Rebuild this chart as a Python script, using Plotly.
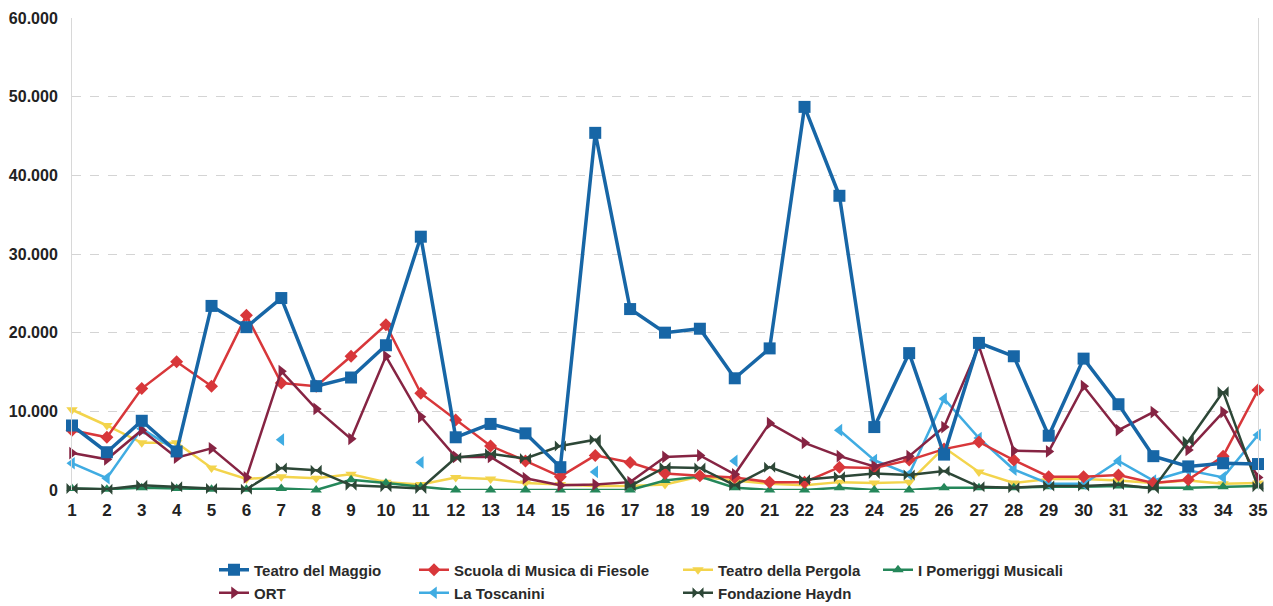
import plotly.graph_objects as go

categories = list(range(1, 36))

maggio = [8200, 4800, 8800, 4900, 23400, 20700, 24400, 13200, 14300, 18400, 32200, 6700, 8400, 7200, 2900,
          45400, 23000, 20000, 20500, 14200, 18000, 48700, 37400, 8000, 17400, 4500, 18700, 17000, 6900,
          16700, 10900, 4300, 3000, 3400, 3300]
fiesole = [7600, 6700, 12900, 16300, 13200, 22200, 13600, 13200, 17000, 21000, 12300, 8900, 5600, 3700, 1700,
           4400, 3500, 2100, 1800, 1600, 1000, 1000, 2900, 2800, 3800, 5200, 6100, 3800, 1700, 1700, 1900,
           900, 1300, 4300, 12700]
pergola = [10200, 8200, 6000, 6000, 2800, 1400, 1700, 1500, 2000, 1000, 700, 1600, 1400, 900, 700, 500, 500,
           700, 1700, 1200, 800, 600, 1000, 900, 1000, 5400, 2300, 900, 1400, 1400, 1200, 900, 1200, 800, 900]
pomeriggi = [200, 100, 300, 200, 100, 100, 200, 0, 1300, 900, 400, 0, 0, 0, 0, 0, 0, 1200, 1700, 300, 0, 0,
             300, 0, 0, 300, 300, 300, 400, 400, 500, 300, 300, 400, 500]
ort = [4700, 3900, 7600, 4100, 5300, 1600, 15100, 10300, 6500, 17000, 9300, 4200, 4200, 1500, 600, 700, 1000,
       4200, 4400, 2000, 8500, 6000, 4300, 3000, 4300, 8000, 18300, 5000, 4900, 13200, 7600, 9900, 5100, 9900,
       1600]
toscanini = [3400, 1500, 7800, 5000, None, None, 6400, None, None, None, 3500, None, None, None, None, 2300,
             None, None, None, 3700, None, None, 7600, 3800, 2000, 11600, 6600, 2600, 800, 800, 3700, 1200,
             2500, 1600, 7000]
haydn = [200, 100, 600, 400, 200, 100, 2800, 2500, 600, 400, 200, 4100, 4600, 4000, 5600, 6400, 500, 2900,
         2800, 600, 2900, 1300, 1700, 2100, 1900, 2400, 400, 300, 500, 500, 700, 200, 6200, 12500, 400]

y_ticks = [0, 10000, 20000, 30000, 40000, 50000, 60000]
y_tick_labels = ["0", "10.000", "20.000", "30.000", "40.000", "50.000", "60.000"]

series = [
    ("Teatro del Maggio", maggio, "#1766a6", "square", 12, 3.5, "legend"),
    ("Scuola di Musica di Fiesole", fiesole, "#d8373a", "diamond", 10, 2.5, "legend2"),
    ("Teatro della Pergola", pergola, "#f3d44c", "triangle-down", 10, 2.5, "legend3"),
    ("I Pomeriggi Musicali", pomeriggi, "#25875a", "triangle-up", 10, 2.5, "legend4"),
    ("ORT", ort, "#862443", "triangle-right", 11, 2.5, "legend5"),
    ("La Toscanini", toscanini, "#40ace2", "triangle-left", 11, 2.5, "legend6"),
    ("Fondazione Haydn", haydn, "#2d4737", "bowtie", 11, 2.5, "legend7"),
]

order = [2, 3, 5, 1, 4, 6, 0]

fig = go.Figure()
for i in order:
    name, vals, col, sym, ms, lw, lg = series[i]
    fig.add_trace(go.Scatter(
        x=categories, y=vals, name=name, mode="lines+markers",
        line=dict(color=col, width=lw),
        marker=dict(symbol=sym, size=ms, color=col, line=dict(width=0)),
        connectgaps=False, cliponaxis=False, legend=lg,
    ))

W, H = 1273, 606
legend_font = dict(family="Liberation Sans, Arial, sans-serif", size=15, color="#2a2a2a", weight="bold")
col_x = [214, 414, 678, 878]
row_y = [570, 593]
legend_pos = {
    "legend": (col_x[0], row_y[0]),
    "legend2": (col_x[1], row_y[0]),
    "legend3": (col_x[2], row_y[0]),
    "legend4": (col_x[3], row_y[0]),
    "legend5": (col_x[0], row_y[1]),
    "legend6": (col_x[1], row_y[1]),
    "legend7": (col_x[2], row_y[1]),
}
layout_legends = {}
for key, (px, py) in legend_pos.items():
    layout_legends[key] = dict(
        x=px / W, y=1 - py / H, xref="container", yref="container",
        xanchor="left", yanchor="middle", orientation="h",
        font=legend_font, bgcolor="rgba(0,0,0,0)", borderwidth=0,
        itemclick=False, itemdoubleclick=False,
    )

fig.update_layout(
    width=W, height=H,
    margin=dict(l=72, r=15, t=18, b=116, autoexpand=False),
    paper_bgcolor="white", plot_bgcolor="white",
    showlegend=True,
    font=dict(family="Liberation Sans, Arial, sans-serif", color="#2a2a2a"),
    **layout_legends,
)
fig.update_xaxes(
    range=[1, 35], tickmode="array", tickvals=categories,
    ticktext=[str(c) for c in categories], automargin=False,
    showgrid=False, zeroline=False, showline=False,
    tickfont=dict(size=17, color="#222222", weight="bold"), ticks="", ticklabelstandoff=8,
)
fig.update_yaxes(
    range=[0, 60000], tickmode="array", tickvals=y_ticks, ticktext=y_tick_labels,
    automargin=False,
    showgrid=True, gridcolor="#d4d4d4", griddash="dash", gridwidth=1,
    zeroline=False, showline=True, linecolor="#d8d8d8", linewidth=1, mirror=True,
    tickfont=dict(size=16, color="#222222", weight="bold"), ticks="", ticklabelstandoff=10,
)

fig.write_html("out.html")
